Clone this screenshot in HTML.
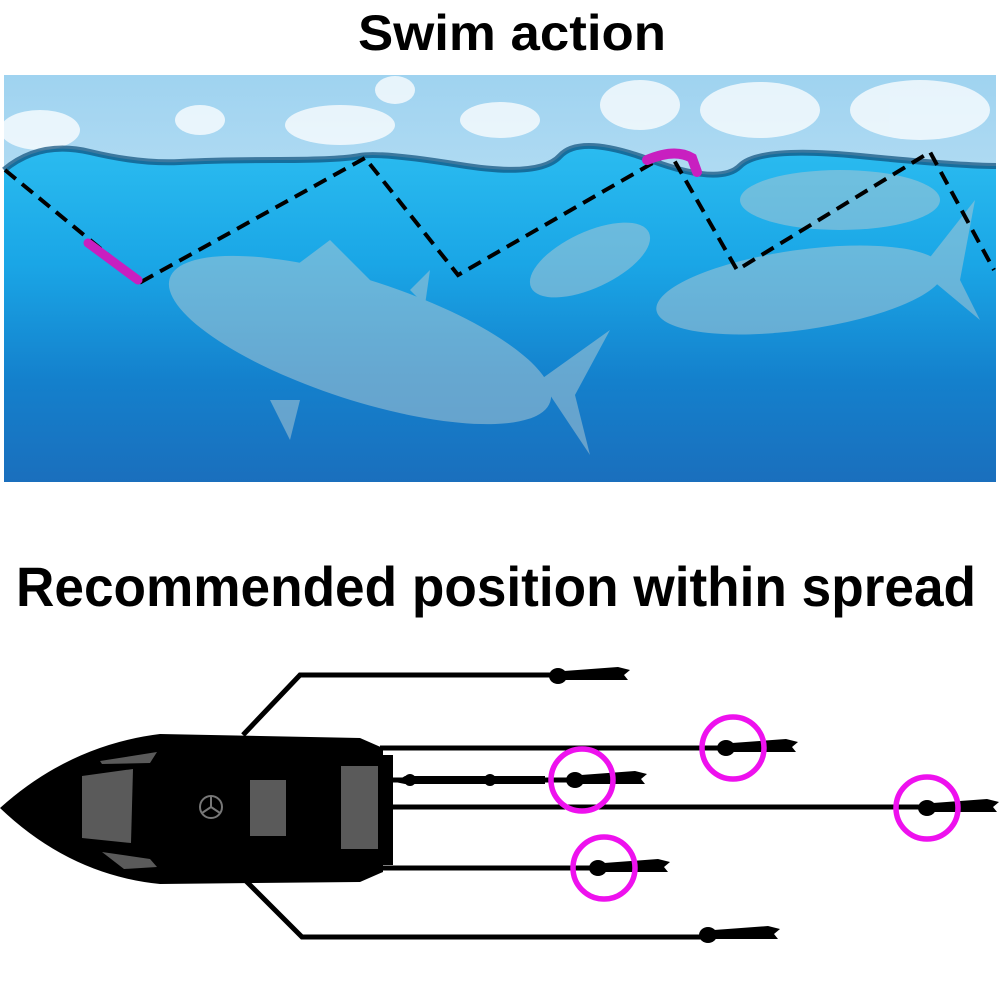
<!DOCTYPE html>
<html><head><meta charset="utf-8"><style>html,body{margin:0;padding:0;background:#fff}svg{display:block}</style></head>
<body>
<svg width="1000" height="1000" viewBox="0 0 1000 1000" xmlns="http://www.w3.org/2000/svg">
<defs>
<linearGradient id="sea" x1="0" y1="0" x2="0" y2="1">
<stop offset="0" stop-color="#2bbcf0"/><stop offset="0.35" stop-color="#1aa6e6"/><stop offset="0.7" stop-color="#1480cc"/><stop offset="1" stop-color="#1a6fbd"/>
</linearGradient>
<linearGradient id="sky" x1="0" y1="0" x2="0" y2="1">
<stop offset="0" stop-color="#9fd3f0"/><stop offset="1" stop-color="#e2f2fb"/>
</linearGradient>
<g id="lure" fill="#000"><ellipse cx="0" cy="0" rx="9" ry="8"/><path d="M6 -5 L60 -9 L72 -6 L66 -1 L70 4 L30 4 L6 4 Z"/></g>
</defs>
<text x="512" y="50" font-family="Liberation Sans, sans-serif" font-weight="bold" font-size="50" text-anchor="middle" textLength="308" lengthAdjust="spacingAndGlyphs">Swim action</text>
<rect x="4" y="75" width="992" height="407" fill="url(#sky)"/>
<g fill="#ffffff" opacity="0.75">
<ellipse cx="40" cy="130" rx="40" ry="20"/><ellipse cx="200" cy="120" rx="25" ry="15"/><ellipse cx="340" cy="125" rx="55" ry="20"/>
<ellipse cx="500" cy="120" rx="40" ry="18"/><ellipse cx="640" cy="105" rx="40" ry="25"/><ellipse cx="760" cy="110" rx="60" ry="28"/>
<ellipse cx="920" cy="110" rx="70" ry="30"/><ellipse cx="395" cy="90" rx="20" ry="14"/>
</g>
<path d="M4 170 Q40 140 90 152 T180 162 T280 160 T360 156 T460 165 T560 156 T650 160 T740 166 T860 156 T996 166 L996 482 L4 482 Z" fill="url(#sea)"/>
<path d="M4 170 Q40 140 90 152 T180 162 T280 160 T360 156 T460 165 T560 156 T650 160 T740 166 T860 156 T996 166" fill="none" stroke="#0d4f7a" stroke-width="6" opacity="0.7"/>
<g fill="#a9c6d4" opacity="0.55">
<ellipse cx="360" cy="340" rx="200" ry="60" transform="rotate(18 360 340)"/>
<path d="M540 380 L610 330 L575 395 L590 455 Z"/>
<path d="M290 270 L330 240 L380 290 Z"/>
<path d="M410 290 L430 270 L425 305 Z"/>
<path d="M270 400 L290 440 L300 400 Z"/>
<ellipse cx="800" cy="290" rx="145" ry="40" transform="rotate(-8 800 290)"/>
<path d="M920 270 L975 200 L960 280 L980 320 Z"/>
<ellipse cx="590" cy="260" rx="65" ry="28" transform="rotate(-25 590 260)"/>
<ellipse cx="840" cy="200" rx="100" ry="30"/>
</g>
<polyline points="5,170 141,282 365,158 458,275 670,153 737,270 930,152 994,270" fill="none" stroke="#000" stroke-width="4" stroke-dasharray="14,8"/>
<path d="M88 243 L138 280" stroke="#c81fc0" stroke-width="9" stroke-linecap="round"/>
<path d="M647 160 Q675 148 692 158 L697 172" fill="none" stroke="#c81fc0" stroke-width="10" stroke-linecap="round"/>
<text x="16" y="606" font-family="Liberation Sans, sans-serif" font-weight="bold" font-size="56" textLength="960" lengthAdjust="spacingAndGlyphs">Recommended position within spread</text>
<g stroke="#000" stroke-width="5" fill="none">
<polyline points="243,735 300,675 560,675"/>
<polyline points="245,880 302,937 712,937"/>
<line x1="380" y1="748" x2="730" y2="748"/>
<line x1="380" y1="780" x2="585" y2="780"/>
<line x1="380" y1="807" x2="930" y2="807"/>
<line x1="380" y1="868" x2="600" y2="868"/>
</g>
<path d="M0 808 Q70 745 160 734 L360 738 L383 748 L383 872 L360 882 L160 884 Q70 875 0 808 Z" fill="#000"/>
<rect x="383" y="755" width="10" height="110" fill="#000"/>
<path d="M100 761 L157 752 L150 763 L102 764 Z" fill="#5a5a5a"/>
<path d="M82 776 L133 769 L131 843 L82 838 Z" fill="#5a5a5a"/>
<path d="M102 852 L150 859 L157 867 L124 869 Z" fill="#5a5a5a"/>
<rect x="250" y="780" width="36" height="56" fill="#5a5a5a"/>
<rect x="341" y="766" width="37" height="83" fill="#5a5a5a"/>
<circle cx="211" cy="807" r="11" fill="none" stroke="#777" stroke-width="2"/>
<path d="M211 796 V807 M211 807 L202 813 M211 807 L220 813" stroke="#777" stroke-width="2"/>
<use href="#lure" x="558" y="676"/>
<use href="#lure" x="726" y="748"/>
<use href="#lure" x="575" y="780"/>
<use href="#lure" x="927" y="808"/>
<use href="#lure" x="598" y="868"/>
<use href="#lure" x="708" y="935"/>
<path d="M395 782 L405 776 L545 776 L545 784 L405 784 Z" fill="#000"/>
<circle cx="410" cy="780" r="6"/><circle cx="490" cy="780" r="6"/>
<g fill="none" stroke="#ee11ee" stroke-width="5.5">
<circle cx="733" cy="748" r="31"/>
<circle cx="582" cy="780" r="31"/>
<circle cx="927" cy="808" r="31"/>
<circle cx="604" cy="868" r="31"/>
</g>
</svg>
</body></html>
